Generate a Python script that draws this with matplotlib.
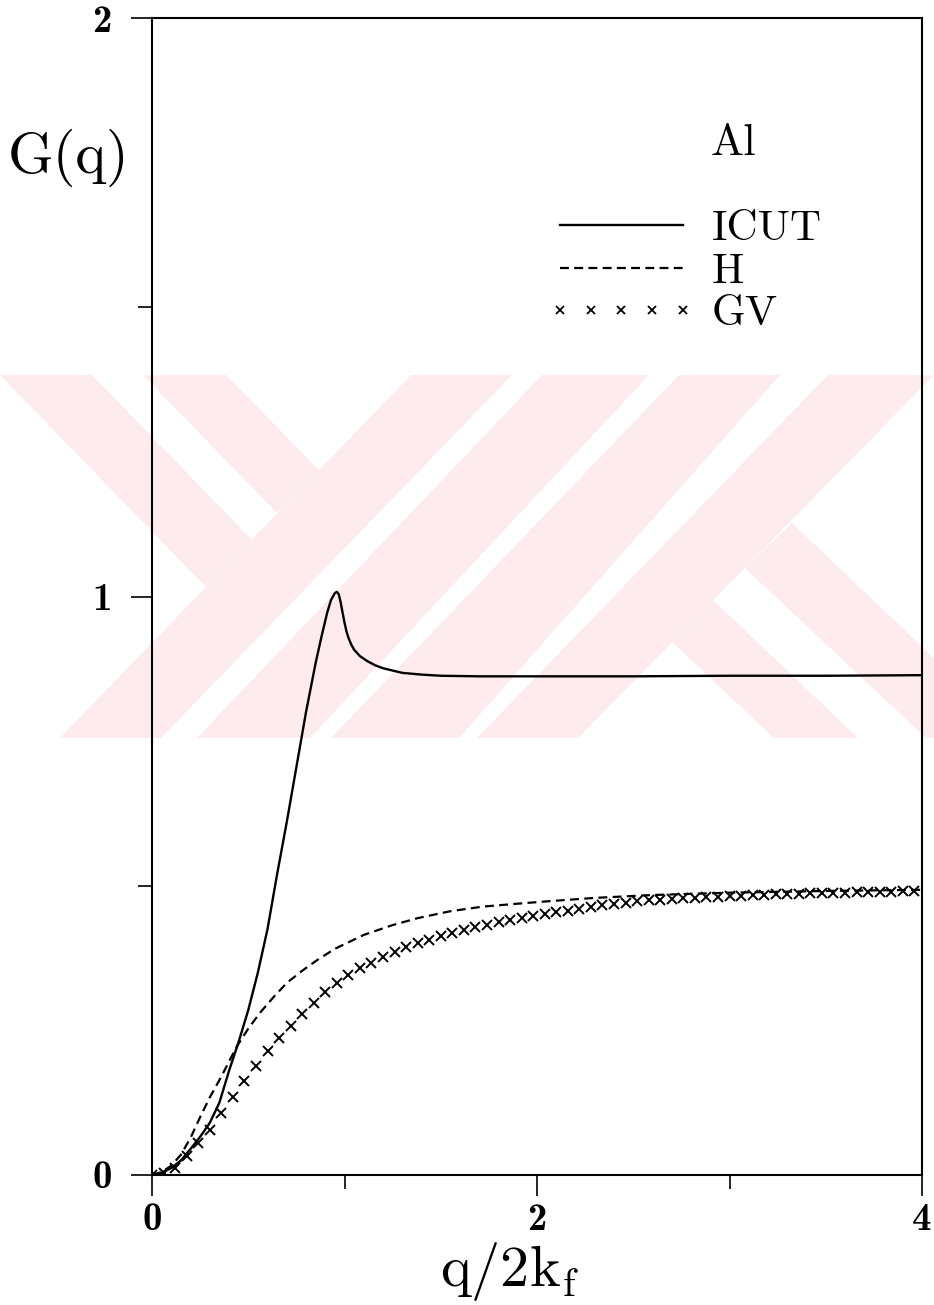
import matplotlib
matplotlib.use('Agg')
import matplotlib.pyplot as plt
from matplotlib.lines import Line2D
from matplotlib.legend_handler import HandlerLine2D
from matplotlib.patches import Polygon

# ---------------- data ----------------
icut_q = [0.0, 0.05, 0.1, 0.15, 0.2, 0.25, 0.3, 0.35, 0.4, 0.45, 0.5, 0.55, 0.6,
          0.65, 0.7, 0.75, 0.8, 0.85, 0.88, 0.91, 0.93, 0.95, 0.96, 0.97, 0.98,
          0.99, 1.0, 1.01, 1.02, 1.035, 1.05, 1.08, 1.12, 1.16, 1.2, 1.3, 1.4,
          1.5, 1.7, 2.0, 2.5, 3.0, 3.5, 4.0]
icut_g = [0.0, 0.004, 0.012, 0.025, 0.045, 0.066, 0.09, 0.125, 0.18, 0.23, 0.285,
          0.35, 0.425, 0.52, 0.61, 0.705, 0.80, 0.885, 0.93, 0.972, 0.994, 1.006,
          1.008, 1.004, 0.99, 0.972, 0.955, 0.94, 0.929, 0.917, 0.908, 0.897,
          0.888, 0.881, 0.876, 0.868, 0.865, 0.863, 0.862, 0.862, 0.862, 0.863,
          0.863, 0.864]

h_q = [0.0, 0.05, 0.1, 0.15, 0.2, 0.25, 0.3, 0.36, 0.44, 0.5, 0.56, 0.63, 0.7,
       0.78, 0.86, 0.95, 1.1, 1.25, 1.38, 1.55, 1.72, 1.9, 2.05, 2.3, 2.6, 3.0,
       3.5, 4.0]
h_g = [0.0, 0.005, 0.016, 0.035, 0.064, 0.1, 0.134, 0.17, 0.222, 0.253, 0.28,
       0.307, 0.332, 0.353, 0.372, 0.391, 0.415, 0.432, 0.444, 0.456, 0.464,
       0.469, 0.473, 0.479, 0.484, 0.488, 0.491, 0.493]

gv_q = [0.00, 0.06, 0.12, 0.18, 0.24, 0.30, 0.36, 0.42, 0.48, 0.54, 0.60, 0.66,
        0.72, 0.78, 0.84, 0.90, 0.96, 1.02, 1.08, 1.14, 1.20, 1.26, 1.32, 1.38,
        1.44, 1.50, 1.56, 1.62, 1.68, 1.74, 1.80, 1.86, 1.92, 1.98, 2.04, 2.10,
        2.16, 2.22, 2.28, 2.34, 2.40, 2.46, 2.52, 2.58, 2.64, 2.70, 2.76, 2.82,
        2.88, 2.94, 3.00, 3.06, 3.12, 3.18, 3.24, 3.30, 3.36, 3.42, 3.48, 3.54,
        3.60, 3.66, 3.72, 3.78, 3.84, 3.90, 3.96]
gv_g = [0.000, 0.004, 0.012, 0.032, 0.055, 0.078, 0.107, 0.135, 0.163, 0.189,
        0.214, 0.236, 0.257, 0.278, 0.298, 0.316, 0.332, 0.345, 0.357, 0.367,
        0.377, 0.386, 0.394, 0.401, 0.407, 0.413, 0.419, 0.424, 0.429, 0.433,
        0.437, 0.441, 0.445, 0.448, 0.451, 0.454, 0.457, 0.460, 0.463, 0.466,
        0.469, 0.471, 0.473, 0.475, 0.476, 0.477, 0.478, 0.479, 0.480, 0.481,
        0.482, 0.483, 0.484, 0.484, 0.485, 0.485, 0.486, 0.487, 0.487, 0.488,
        0.488, 0.489, 0.489, 0.490, 0.490, 0.491, 0.491]

series_labels = ['ICUT', 'H', 'GV']
x_major = [0, 2, 4]
x_labels = ['0', '2', '4']
x_minor = [1, 3]
y_major = [0, 1, 2]
y_labels = ['0', '1', '2']
y_minor = [0.5, 1.5]

# ---------------- style ----------------
plt.rcParams['font.family'] = ['cmr10', 'DejaVu Serif']
plt.rcParams['mathtext.fontset'] = 'cm'
plt.rcParams['axes.formatter.use_mathtext'] = True

W, H = 934, 1305
fig = plt.figure(figsize=(W / 100, H / 100), dpi=100)
ax = fig.add_axes([152 / W, 1 - 1175 / H, 770 / W, 1157 / H])
ax.set_facecolor('none')

# background watermark (decoration, pixel geometry)
wm_color = '#fdebee'
wm_polys = [
    [(60, 738), (161, 738), (512, 375), (411, 375)],
    [(197, 738), (310, 738), (649, 375), (542, 375)],
    [(331, 738), (459, 738), (780, 375), (679, 375)],
    [(477, 738), (578, 738), (934, 375), (828, 375)],
    [(0, 375), (92, 375), (252, 540), (206, 587), (0, 375)],
    [(143, 375), (226, 375), (319, 470), (277, 513)],
    [(672, 642), (713, 600), (858, 738), (774, 738)],
    [(745, 568), (792, 523), (934, 658), (934, 738), (926, 738)],
]
for poly in wm_polys:
    fig.add_artist(Polygon([(x / W, 1 - y / H) for x, y in poly], closed=True,
                           transform=fig.transFigure, facecolor=wm_color,
                           edgecolor='none', zorder=-10))

# ---------------- data marks ----------------
ax.plot(icut_q, icut_g, color='black', lw=1.7)
ax.plot(h_q, h_g, color='black', lw=1.6, dashes=(4, 2.4))
ax.plot(gv_q, gv_g, ls='none', marker='x', ms=7.5, mew=1.4, color='black')

ax.set_xlim(0, 4)
ax.set_ylim(0, 2)

for s in ax.spines.values():
    s.set_linewidth(1.5)

tick_font = dict(family=['cmb10', 'cmr10'], size=28)
ax.set_xticks(x_major)
ax.set_xticklabels(x_labels, **tick_font)
ax.set_xticks(x_minor, minor=True)
ax.set_yticks(y_major)
ax.set_yticklabels(y_labels, **tick_font)
ax.set_yticks(y_minor, minor=True)
ax.tick_params(which='major', direction='out', length=15, width=1.2,
               color='black')
ax.tick_params(which='minor', direction='out', length=10, width=1.2,
               color='black')
ax.tick_params(axis='x', which='major', pad=5)
ax.tick_params(axis='y', which='major', pad=14)

ax.set_ylabel('G(q)', rotation=0, fontsize=42, va='center', ha='center')
ax.yaxis.set_label_coords(-0.108, 0.879)
ax.set_xlabel(r'$\mathrm{q/2k_f}$', fontsize=42, va='top')
ax.xaxis.set_label_coords(0.465, -0.056)

ax.text(0.7545, 0.8816, 'Al', transform=ax.transAxes, fontsize=32,
        ha='center', va='baseline')

# ---------------- legend ----------------
hl1 = Line2D([], [], color='black', lw=1.7)
hl2 = Line2D([], [], color='black', lw=1.6, dashes=(4, 2.4))
hl3 = Line2D([], [], ls='none', marker='x', ms=6, mew=1.3, color='black')
leg = ax.legend([hl1, hl2, hl3], series_labels, loc='upper left',
                bbox_to_anchor=(0.530, 0.834), frameon=False, fontsize=31,
                handlelength=2.85, handletextpad=0.68, labelspacing=0.1,
                borderpad=0, borderaxespad=0,
                handler_map={hl3: HandlerLine2D(numpoints=5, marker_pad=0)})

fig.savefig('out.png', dpi=100)
